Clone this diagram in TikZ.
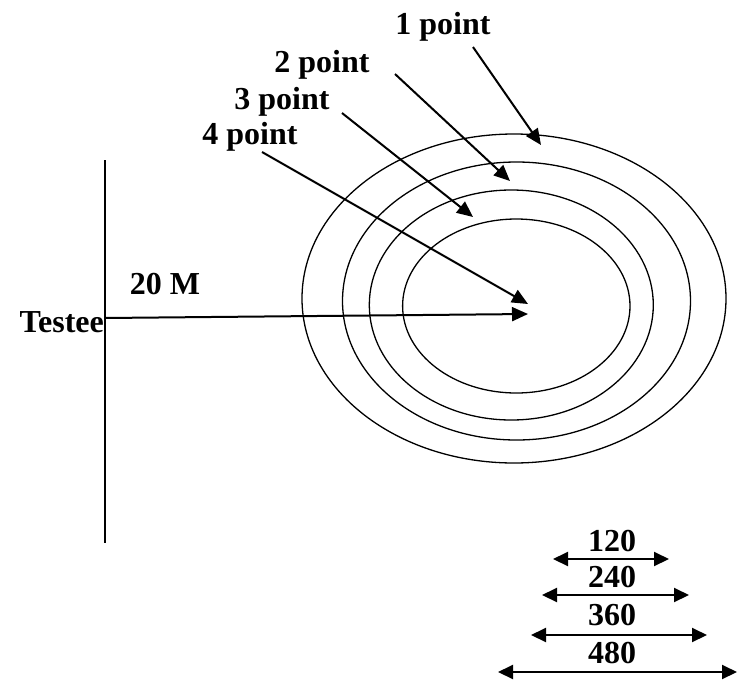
\documentclass[tikz,border=0pt]{standalone}
\usepackage{fontspec}
\setmainfont{Liberation Serif}
\usetikzlibrary{arrows.meta}
\tikzset{
  lbl/.style={font=\fontsize{32}{32}\selectfont\bfseries, inner sep=0pt},
  ring/.style={line width=1.3pt},
  ptr/.style={line width=2pt, -{Triangle[length=16pt,width=14pt]}},
  dbl/.style={line width=2pt, {Triangle[length=15pt,width=14pt]}-{Triangle[length=15pt,width=14pt]}},
}
\begin{document}
\begin{tikzpicture}[x=1pt,y=-1pt]
\useasboundingbox (0,0) rectangle (737,681);
% rings
\draw[ring] (514,298.5) ellipse [x radius=212, y radius=164.5];
\draw[ring] (516.5,301) ellipse [x radius=174, y radius=139];
\draw[ring] (511.3,305) ellipse [x radius=142, y radius=115];
\draw[ring] (516.3,306) ellipse [x radius=113.7, y radius=87];
% testee line
\coordinate (vtop) at (105,160);
\coordinate (vbot) at (105,543);
\draw[line width=2pt] (vtop) -- (vbot);
% labels
\node[lbl] (p1) at (443,27) {1 point};
\node[lbl] (p2) at (322,65) {2 point};
\node[lbl] (p3) at (282,102) {3 point};
\node[lbl] (p4) at (250,137) {4 point};
\node[lbl] (d20) at (165,284) {20 M};
\node[lbl, anchor=east] (testee) at (104,322) {Testee};
% arrow endpoints
\coordinate (s1) at (473,47);   \coordinate (e1) at (541,145);
\coordinate (s2) at (395,74);   \coordinate (e2) at (510,181);
\coordinate (s3) at (342,113);  \coordinate (e3) at (473,217);
\coordinate (s4) at (262,152);  \coordinate (e4) at (528,304);
\coordinate (s5) at (105,318);  \coordinate (e5) at (528,314);
\draw[ptr] (s1) -- (e1);
\draw[ptr] (s2) -- (e2);
\draw[ptr] (s3) -- (e3);
\draw[ptr] (s4) -- (e4);
\draw[ptr] (s5) -- (e5);
% scale
\node[lbl] (n120) at (612,541) {120};
\node[lbl] (n240) at (612,577) {240};
\node[lbl] (n360) at (612,615) {360};
\node[lbl] (n480) at (612,653) {480};
\coordinate (a1l) at (553,559); \coordinate (a1r) at (669,559);
\coordinate (a2l) at (542,595); \coordinate (a2r) at (689,595);
\coordinate (a3l) at (531,635); \coordinate (a3r) at (707,635);
\coordinate (a4l) at (498,672); \coordinate (a4r) at (737,672);
\draw[dbl] (a1l) -- (a1r);
\draw[dbl] (a2l) -- (a2r);
\draw[dbl] (a3l) -- (a3r);
\draw[dbl] (a4l) -- (a4r);
\end{tikzpicture}
\end{document}
